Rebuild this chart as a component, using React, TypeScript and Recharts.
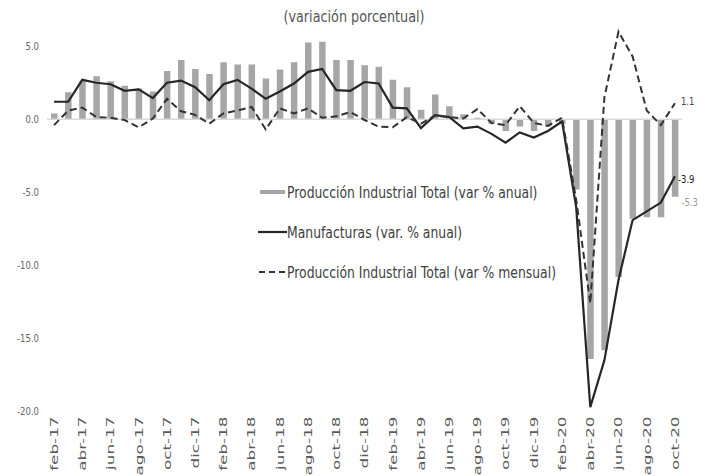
import React from 'react';
import { ComposedChart, Bar, Line, XAxis, YAxis, ReferenceLine, LabelList, Legend } from 'recharts';

const MONTHS = [
  'feb-17', 'mar-17', 'abr-17', 'may-17', 'jun-17', 'jul-17', 'ago-17', 'sep-17', 'oct-17', 'nov-17', 'dic-17',
  'ene-18', 'feb-18', 'mar-18', 'abr-18', 'may-18', 'jun-18', 'jul-18', 'ago-18', 'sep-18', 'oct-18', 'nov-18', 'dic-18',
  'ene-19', 'feb-19', 'mar-19', 'abr-19', 'may-19', 'jun-19', 'jul-19', 'ago-19', 'sep-19', 'oct-19', 'nov-19', 'dic-19',
  'ene-20', 'feb-20', 'mar-20', 'abr-20', 'may-20', 'jun-20', 'jul-20', 'ago-20', 'sep-20', 'oct-20',
];

// Producción Industrial Total (var % anual) - bars
const TOTAL_ANUAL = [
  0.4, 1.85, 2.6, 2.95, 2.6, 2.3, 2.1, 1.9, 3.3, 4.05, 3.45,
  3.1, 3.9, 3.75, 3.75, 2.8, 3.4, 3.9, 5.25, 5.3, 4.05, 4.05, 3.7,
  3.6, 2.7, 2.2, 0.65, 1.7, 0.9, 0.35, 0.1, -0.3, -0.8, -0.5, -0.8,
  -0.5, -0.3, -4.8, -16.4, -15.8, -10.8, -6.8, -6.7, -6.7, -5.3,
];

// Manufacturas (var. % anual) - solid line
const MANUF_ANUAL = [
  1.2, 1.2, 2.7, 2.5, 2.4, 1.95, 2.05, 1.45, 2.5, 2.65, 2.2,
  1.3, 2.4, 2.7, 2.1, 1.4, 1.9, 2.45, 3.25, 3.45, 2.0, 1.95, 2.55,
  2.45, 0.8, 0.75, -0.6, 0.28, 0.16, -0.62, -0.5, -1.0, -1.6, -0.9, -1.25,
  -0.8, -0.15, -6.0, -19.7, -16.5, -11.0, -6.9, -6.3, -5.7, -3.9,
];

// Producción Industrial Total (var % mensual) - dashed line
const TOTAL_MENSUAL = [
  -0.4, 0.6, 0.8, 0.15, 0.1, -0.05, -0.55, 0.05, 1.4, 0.55, 0.3,
  -0.3, 0.4, 0.6, 0.85, -0.7, 0.75, 0.4, 0.75, 0.1, 0.2, 0.5, -0.05,
  -0.5, -0.55, 0.15, -0.3, 0.25, 0.15, 0.05, 0.7, -0.25, -0.4, 0.9, -0.25,
  -0.45, 0.1, -5.5, -12.6, 1.5, 6.0, 4.3, 0.6, -0.4, 1.1,
];

const Y_TICKS = [-20, -15, -10, -5, 0, 5];
const TITLE = '(variación porcentual)';
const NAME_TOTAL = 'Producción Industrial Total (var % anual)';
const NAME_MANUF = 'Manufacturas (var. % anual)';
const NAME_MENSUAL = 'Producción Industrial Total (var % mensual)';

const data = MONTHS.map((m, i) => ({
  m,
  total: TOTAL_ANUAL[i],
  manuf: MANUF_ANUAL[i],
  mensual: TOTAL_MENSUAL[i],
}));

const FONT = '"DejaVu Sans", sans-serif';
const LAST = MONTHS.length - 1;
const BAR_COLOR = '#A6A6A6';
const LINE_COLOR = '#262626';
const DASH_COLOR = '#333333';

const XTick = (props: any) => {
  const { x, y, payload } = props;
  return (
    <g transform={`translate(${x},${y - 3})`}>
      <text transform="scale(1,1.6) rotate(-90)" textAnchor="end" dy="0.36em" fontSize={10.5} fill="#5a5a5a" fontFamily={FONT}>
        {payload.value}
      </text>
    </g>
  );
};

const YTick = (props: any) => {
  const { x, y, payload } = props;
  return (
    <g transform={`translate(${x},${y})`}>
      <text transform="scale(1,1.3)" textAnchor="end" dy="0.36em" fontSize={8.5} fill="#666" fontFamily={FONT}>
        {Number(payload.value).toFixed(1)}
      </text>
    </g>
  );
};

const EndLabel = (dx: number, dy: number, color: string, kind: 'bar' | 'line') => (p: any) => {
  if (p.index !== LAST) return null;
  let px = p.x;
  let py = p.y;
  if (kind === 'bar') {
    px = p.x + p.width;
    py = Math.max(p.y, p.y + p.height);
  }
  return (
    <g transform={`translate(${px + dx},${py + dy})`}>
      <text transform="scale(1,1.3)" textAnchor="start" dy="0.36em" fontSize={8.5} fill={color} fontFamily={FONT}>
        {Number(p.value).toFixed(1)}
      </text>
    </g>
  );
};

const LegendContent = (props: any) => {
  const items = props.payload || [];
  const order = ['total', 'manuf', 'mensual'];
  const sorted = order.map((k) => items.find((it: any) => it.dataKey === k)).filter(Boolean);
  return (
    <div style={{ fontFamily: FONT }}>
      {sorted.map((it: any) => (
        <div key={it.dataKey} style={{ height: 40, display: 'flex', alignItems: 'center' }}>
          <svg width={29} height={10} style={{ flex: 'none' }}>
            {it.dataKey === 'total' && <rect x={2} y={3} width={25} height={4} fill={BAR_COLOR} />}
            {it.dataKey === 'manuf' && <line x1={0} y1={5} x2={29} y2={5} stroke={LINE_COLOR} strokeWidth={2.2} />}
            {it.dataKey === 'mensual' && (
              <line x1={1} y1={5} x2={28} y2={5} stroke={DASH_COLOR} strokeWidth={2} strokeDasharray="6 4" />
            )}
          </svg>
          <span
            style={{
              display: 'inline-block',
              fontSize: 12.4,
              color: '#404040',
              transform: 'scaleY(1.3)',
              transformOrigin: 'left center',
              whiteSpace: 'nowrap',
            }}
          >
            {it.value}
          </span>
        </div>
      ))}
    </div>
  );
};

export default function App() {
  return (
    <div style={{ position: 'absolute', left: 0, top: 0, width: 708, height: 476, background: '#fff' }}>
      <div
        style={{
          position: 'absolute',
          left: 0,
          top: 9,
          width: 708,
          textAlign: 'center',
          fontFamily: FONT,
          fontSize: 12.8,
          color: '#555',
          transform: 'scaleY(1.2)',
          zIndex: 2,
          whiteSpace: 'nowrap',
        }}
      >
        {TITLE}
      </div>
      <ComposedChart
        width={708}
        height={476}
        data={data}
        margin={{ top: 2.4, right: 26, bottom: 0, left: 0 }}
        barCategoryGap={0}
      >
        <XAxis
          dataKey="m"
          interval={1}
          height={64.5}
          axisLine={false}
          tickLine={false}
          tick={<XTick />}
        />
        <YAxis
          width={47}
          domain={[-20, 8]}
          ticks={Y_TICKS}
          allowDataOverflow
          axisLine={false}
          tickLine={false}
          tick={<YTick />}
        />
        <ReferenceLine y={0} stroke="#D9D9D9" strokeWidth={1.5} />
        <Bar dataKey="total" name={NAME_TOTAL} fill={BAR_COLOR} barSize={6.5} isAnimationActive={false}>
          <LabelList dataKey="total" content={EndLabel(3, 5, '#999999', 'bar')} />
        </Bar>
        <Line
          type="linear"
          dataKey="manuf"
          name={NAME_MANUF}
          stroke={LINE_COLOR}
          strokeWidth={2.2}
          dot={false}
          activeDot={false}
          isAnimationActive={false}
        >
          <LabelList dataKey="manuf" content={EndLabel(3, 3, '#222222', 'line')} />
        </Line>
        <Line
          type="linear"
          dataKey="mensual"
          name={NAME_MENSUAL}
          stroke={DASH_COLOR}
          strokeWidth={2}
          strokeDasharray="7 4"
          dot={false}
          activeDot={false}
          isAnimationActive={false}
        >
          <LabelList dataKey="mensual" content={EndLabel(6, -2, '#444444', 'line')} />
        </Line>
        <Legend
          layout="vertical"
          align="center"
          verticalAlign="middle"
          content={<LegendContent />}
          wrapperStyle={{ position: 'absolute', left: 258, top: 172, width: 340, bottom: 'auto', right: 'auto' }}
        />
      </ComposedChart>
    </div>
  );
}
